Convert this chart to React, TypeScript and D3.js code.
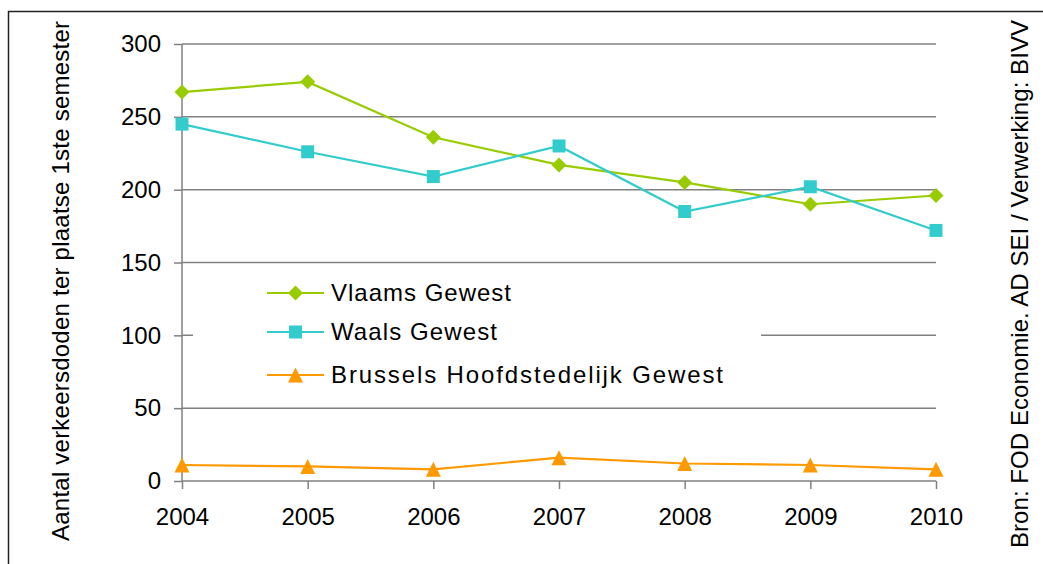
import { useRef, useEffect } from "react";
import * as d3 from "d3";

const years = [2004, 2005, 2006, 2007, 2008, 2009, 2010];
const vlaams = [267, 274, 236, 217, 205, 190, 196];
const waals = [245, 226, 209, 230, 185, 202, 172];
const brussels = [11, 10, 8, 16, 12, 11, 8];
const yTicks = [0, 50, 100, 150, 200, 250, 300];

const seriesNames = ["Vlaams Gewest", "Waals Gewest", "Brussels Hoofdstedelijk Gewest"];
const yTitle = "Aantal verkeersdoden ter plaatse 1ste semester";
const sourceText = "Bron: FOD Economie. AD SEI / Verwerking: BIVV";

const FONT = "'Liberation Sans', Arial, sans-serif";

function markerPath(kind: string, s: number) {
  const h = s / 2;
  if (kind === "diamond") return `M0,${-h}L${h},0L0,${h}L${-h},0Z`;
  if (kind === "square") return `M${-h},${-h}H${h}V${h}H${-h}Z`;
  return `M0,${-h}L${h},${h}L${-h},${h}Z`;
}

export default function App() {
  const svgRef = useRef<SVGSVGElement>(null);

  useEffect(() => {
    const svg = svgRef.current;
    if (!svg) return;

    const width = 1043;
    const height = 564;
    const x = d3.scaleLinear().domain([2004, 2010]).range([182, 936]);
    const y = d3.scaleLinear().domain([0, 300]).range([481, 44]);

    const sel = d3.select(svg);
    sel.selectAll("*").remove();
    sel.attr("width", width).attr("height", height);

    sel.append("rect").attr("width", width).attr("height", height).attr("fill", "#fff");

    // outer frame
    sel.append("path")
      .attr("d", `M1050,11.5H8.5V570`)
      .attr("fill", "none")
      .attr("stroke", "#222")
      .attr("stroke-width", 1.5);

    // gridlines
    sel.append("g")
      .selectAll("line")
      .data(yTicks.filter((d) => d > 0))
      .join("line")
      .attr("x1", 182)
      .attr("x2", 936)
      .attr("y1", (d) => y(d))
      .attr("y2", (d) => y(d))
      .attr("stroke", "#808080")
      .attr("stroke-width", 1.5);

    // axes
    const gy = sel.append("g").attr("transform", "translate(182,0)")
      .call(d3.axisLeft(y).tickValues(yTicks).tickSize(8).tickPadding(13));
    gy.selectAll("text").attr("font-size", "24px").attr("font-family", FONT).attr("fill", "#000");
    gy.selectAll("line,path").attr("stroke", "#808080").attr("stroke-width", 1.5);
    gy.select(".domain").attr("d", `M0,${y(300)}V${y(0)}`);

    const gx = sel.append("g").attr("transform", "translate(0,481)")
      .call(d3.axisBottom(x).tickValues(years).tickFormat(d3.format("d")).tickSize(8).tickPadding(19));
    gx.selectAll("text").attr("font-size", "24px").attr("font-family", FONT).attr("fill", "#000");
    gx.selectAll("line,path").attr("stroke", "#808080").attr("stroke-width", 1.5);
    gx.select(".domain").attr("d", `M182,0H936`);

    // legend background (covers part of gridline)
    sel.append("rect")
      .attr("x", 193).attr("y", 272).attr("width", 568).attr("height", 126)
      .attr("fill", "#fff");

    const series = [
      { values: vlaams, color: "#99CC00", marker: "diamond", size: 15, labelW: 180 },
      { values: waals, color: "#33CCCC", marker: "square", size: 13, labelW: 166 },
      { values: brussels, color: "#FF9900", marker: "triangle", size: 15, labelW: 392 },
    ];

    const line = d3.line<number>().x((_, i) => x(years[i])).y((d) => y(d));

    series.forEach((s) => {
      sel.append("path")
        .datum(s.values)
        .attr("fill", "none")
        .attr("stroke", s.color)
        .attr("stroke-width", 2.2)
        .attr("d", line);
      sel.append("g")
        .selectAll("path")
        .data(s.values)
        .join("path")
        .attr("transform", (d, i) => `translate(${x(years[i])},${y(d)})`)
        .attr("d", markerPath(s.marker, s.size))
        .attr("fill", s.color);
    });

    // legend
    const legendY = [293, 332, 375];
    series.forEach((s, i) => {
      const g = sel.append("g").attr("transform", `translate(0,${legendY[i]})`);
      g.append("line").attr("x1", 267).attr("x2", 324).attr("stroke", s.color).attr("stroke-width", 2.2);
      g.append("path").attr("transform", "translate(295.5,0)").attr("d", markerPath(s.marker, s.size)).attr("fill", s.color);
      g.append("text")
        .attr("x", 331).attr("dy", "0.35em")
        .attr("font-size", "24px").attr("font-family", FONT)
        .attr("textLength", s.labelW).attr("lengthAdjust", "spacing")
        .text(seriesNames[i]);
    });

    // y title
    sel.append("text")
      .attr("transform", `translate(69,${(20 + 542) / 2}) rotate(-90)`)
      .attr("text-anchor", "middle")
      .attr("font-size", "24px").attr("font-family", FONT)
      .attr("textLength", 520).attr("lengthAdjust", "spacing")
      .text(yTitle);

    // source
    sel.append("text")
      .attr("transform", `translate(1028,${(20 + 548) / 2}) rotate(-90)`)
      .attr("text-anchor", "middle")
      .attr("font-size", "24px").attr("font-family", FONT)
      .attr("textLength", 528).attr("lengthAdjust", "spacing")
      .text(sourceText);
  }, []);

  return (
    <div style={{ position: "absolute", left: 0, top: 0 }}>
      <svg ref={svgRef} style={{ display: "block" }} />
    </div>
  );
}
